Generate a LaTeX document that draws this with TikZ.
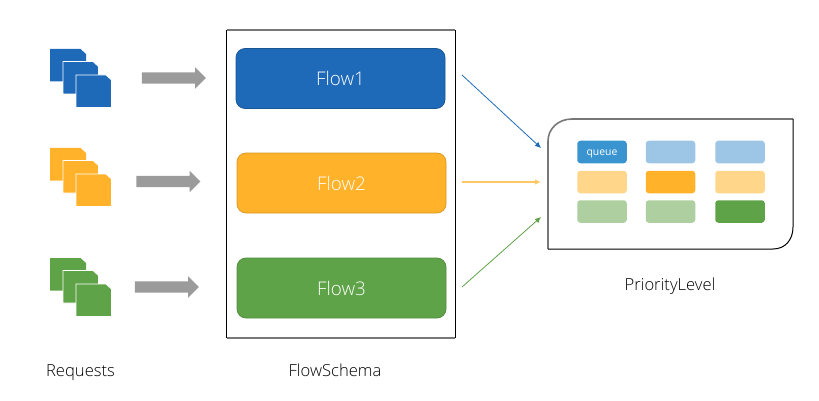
\documentclass[tikz,border=0pt]{standalone}
\usepackage{fontspec}
\setmainfont{Open Sans Light}[BoldFont={Open Sans}]
\usetikzlibrary{shapes.arrows,arrows.meta}
\definecolor{cblue}{HTML}{1E6AB8}
\definecolor{cblueq}{HTML}{3A94D0}
\definecolor{cbluel}{HTML}{9DC6E6}
\definecolor{corange}{HTML}{FFB22A}
\definecolor{corangel}{HTML}{FFD68A}
\definecolor{cgreen}{HTML}{5FA348}
\definecolor{cgreenl}{HTML}{AECF9F}
\definecolor{cgrayarrow}{HTML}{9B9B9B}
\definecolor{cedge}{HTML}{777777}
\definecolor{corangeline}{HTML}{FFC766}
\newcommand{\pagestack}[3]{%
  \begin{scope}[shift={(#1,#2)}]
    \draw[fill=#3,draw=none] (0,0) -- (30.5,0) -- (36,5) -- (36,32.5) -- (0,32.5) -- cycle;
    \draw[fill=#3,draw=white,line width=0.8pt] (13,12.5) -- (43,12.5) -- (48.5,17.5) -- (48.5,45) -- (13,45) -- cycle;
    \draw[fill=#3,draw=white,line width=0.8pt] (26,26) -- (56,26) -- (61.5,31) -- (61.5,58.5) -- (26,58.5) -- cycle;
  \end{scope}}
\tikzset{
  x=1pt,y=-1pt,
  flowbox/.style={rounded corners=9pt,minimum width=209pt,minimum height=60pt,line width=0.7pt,inner sep=0pt,text=white,font=\fontsize{18.8}{22}\selectfont},
  cell/.style={rounded corners=3pt,minimum width=49.5pt,minimum height=22.5pt,inner sep=0pt},
  bigarrow/.style={single arrow,fill=cgrayarrow,draw=none,minimum height=64pt,minimum width=21pt,single arrow head extend=5pt,single arrow head indent=0pt,single arrow tip angle=90,inner xsep=0pt,inner ysep=5.5pt},
  label/.style={inner sep=0pt,anchor=base,text=black,font=\fontsize{16.6}{20}\selectfont},
  thin arrow/.style={line width=0.8pt,-{Latex[length=6pt,width=5.5pt]}},
  edgedark/.style={black,line width=1pt},
  edgegray/.style={cedge,line width=1.6pt},
}
\begin{document}
\begin{tikzpicture}
\useasboundingbox (0,0) rectangle (819,401);
% pages
\pagestack{50}{49}{cblue}
\pagestack{50}{148}{corange}
\pagestack{50}{258}{cgreen}
% gray arrows
\node[bigarrow] (a1) at (171,78) {};
\node[bigarrow] (a2) at (165.5,181.5) {};
\node[bigarrow] (a3) at (164,287) {};
% flow schema
\node[minimum width=228pt,minimum height=308pt,inner sep=0pt] (schema) at (341,184) {};
\draw[edgegray] (schema.north west) -- (schema.north east);
\draw[edgegray] (schema.south west) -- (schema.south east);
\draw[edgedark] (schema.north west) -- (schema.south west);
\draw[edgedark] (schema.north east) -- (schema.south east);
\node[flowbox,fill=cblue,draw=cblue!80!black] (flow1) at (340.5,78.5) {Flow1};
\node[flowbox,fill=corange,draw=corange!85!black] (flow2) at (341.5,183) {Flow2};
\node[flowbox,fill=cgreen,draw=cgreen!85!black] (flow3) at (341.5,288) {Flow3};
% priority level
\draw[edgegray] (793,119) -- (572,119) .. controls (558,119) and (548,129) .. (548,141) -- (548,249);
\draw[edgedark] (793,119) -- (793,227) .. controls (793,240) and (785,249) .. (773,249) -- (548,249);
\coordinate (plvl1) at (541,148);
\coordinate (plvl2) at (541,182);
\coordinate (plvl3) at (541,217);
\coordinate (f1out) at (462,75);
\coordinate (f2out) at (462,182);
\coordinate (f3out) at (462,287);
\node[cell,fill=cblueq,text=white,font=\fontsize{10.4}{12}\bfseries] (q11) at (602,152) {\raisebox{-4pt}[0pt][0pt]{queue}};
\node[cell,fill=cbluel] (q12) at (670.5,152) {};
\node[cell,fill=cbluel] (q13) at (740,152) {};
\node[cell,fill=corangel] (q21) at (602,182) {};
\node[cell,fill=corange] (q22) at (670.5,182) {};
\node[cell,fill=corangel] (q23) at (740,182) {};
\node[cell,fill=cgreenl] (q31) at (602,211.5) {};
\node[cell,fill=cgreenl] (q32) at (670.5,211.5) {};
\node[cell,fill=cgreen] (q33) at (740,211.5) {};
% connectors
\draw[thin arrow,cblue] (f1out) -- (plvl1);
\draw[line width=1.1pt,-{Latex[length=6pt,width=5.5pt]},corangeline] (f2out) -- (plvl2);
\draw[thin arrow,cgreen] (f3out) -- (plvl3);
% labels
\node[label] (lreq) at (80.5,376) {Requests};
\node[label] (lfs) at (335,376.5) {FlowSchema};
\node[label] (lpl) at (670,290) {PriorityLevel};
\end{tikzpicture}
\end{document}
